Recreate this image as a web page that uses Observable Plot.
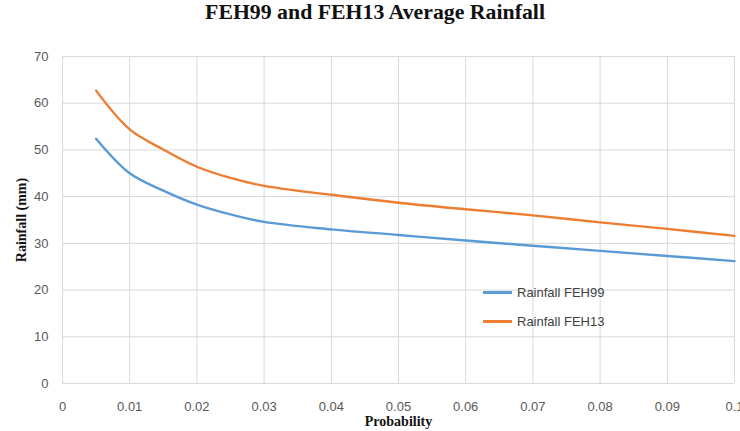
<!DOCTYPE html>
<html>
<head>
<meta charset="utf-8">
<script src="https://cdn.jsdelivr.net/npm/d3@7"></script>
<script src="https://cdn.jsdelivr.net/npm/@observablehq/plot@0.6"></script>
<style>
  html, body { margin: 0; padding: 0; background: #fff; }
  #wrap { position: relative; width: 740px; height: 431px; overflow: hidden; }
  #title { height: 40px; line-height: 40px; text-align: center; font: bold 21.8px "Liberation Serif", serif; color: #111; padding-left: 10px; }
  #chart svg { display: block; }
  #chart g[aria-label="y-axis label"] text,
  #chart g[aria-label="x-axis label"] text { font: bold 14px "Liberation Serif", serif; fill: #111; }
  #legend { position: absolute; left: 483px; top: 278px; font: 13px "Liberation Sans", sans-serif; color: #404040; }
  #legend .item { display: flex; align-items: center; height: 29px; }
  #legend .sw { width: 29px; height: 2.5px; margin-right: 5px; }
</style>
</head>
<body>
<div id="wrap">
  <div id="title">FEH99 and FEH13 Average Rainfall</div>
  <div id="chart"></div>
  <div id="legend"></div>
</div>
<script>
const probability = [0.005, 0.01, 0.015, 0.02, 0.025, 0.03, 0.04, 0.05, 0.06, 0.07, 0.08, 0.09, 0.1];
const rainfallFEH99 = [52.4, 45.0, 41.3, 38.3, 36.2, 34.6, 33.0, 31.8, 30.6, 29.5, 28.4, 27.3, 26.2];
const rainfallFEH13 = [62.7, 54.4, 50.1, 46.4, 44.0, 42.3, 40.4, 38.7, 37.3, 36.0, 34.5, 33.1, 31.6];
const seriesNames = ["Rainfall FEH99", "Rainfall FEH13"];
const seriesColors = ["#5B9BD5", "#ED7D31"];
const xTicks = [0, 0.01, 0.02, 0.03, 0.04, 0.05, 0.06, 0.07, 0.08, 0.09, 0.1];
const yTicks = [0, 10, 20, 30, 40, 50, 60, 70];

const rows = [];
[rainfallFEH99, rainfallFEH13].forEach((vals, si) => {
  probability.forEach((p, i) => rows.push({ series: seriesNames[si], p, v: vals[i] }));
});

const fmtX = d => d === 0 ? "0" : String(+d.toFixed(2));

const chart = Plot.plot({
  width: 740,
  height: 391,
  marginLeft: 62,
  marginRight: 6,
  marginTop: 16,
  marginBottom: 48,
  style: { fontFamily: "'Liberation Sans', sans-serif", fontSize: "13px", color: "#595959", background: "#fff" },
  x: { domain: [0, 0.1], ticks: xTicks, tickFormat: fmtX, label: "Probability", labelAnchor: "center", labelArrow: "none", labelOffset: 40 },
  y: { domain: [0, 70], ticks: yTicks, label: "Rainfall (mm)", labelAnchor: "center", labelArrow: "none", labelOffset: 48 },
  color: { domain: seriesNames, range: seriesColors },
  marks: [
    Plot.gridX(xTicks, { stroke: "#d9d9d9", strokeOpacity: 1, strokeWidth: 1 }),
    Plot.gridY(yTicks, { stroke: "#d9d9d9", strokeOpacity: 1, strokeWidth: 1 }),
    Plot.axisX(xTicks, { tickSize: 0, tickPadding: 18, tickFormat: fmtX, label: "Probability", labelAnchor: "center", labelArrow: "none", labelOffset: 42 }),
    Plot.axisY(yTicks, { tickSize: 0, tickPadding: 14, label: "Rainfall (mm)", labelAnchor: "center", labelArrow: "none", labelOffset: 46 }),
    Plot.line(rows, { x: "p", y: "v", z: "series", stroke: "series", strokeWidth: 2.4, curve: "catmull-rom" })
  ]
});
document.getElementById("chart").appendChild(chart);

const legend = document.getElementById("legend");
seriesNames.forEach((n, i) => {
  const it = document.createElement("div");
  it.className = "item";
  const sw = document.createElement("span");
  sw.className = "sw";
  sw.style.background = seriesColors[i];
  const tx = document.createElement("span");
  tx.textContent = n;
  it.appendChild(sw); it.appendChild(tx);
  legend.appendChild(it);
});
</script>
</body>
</html>
